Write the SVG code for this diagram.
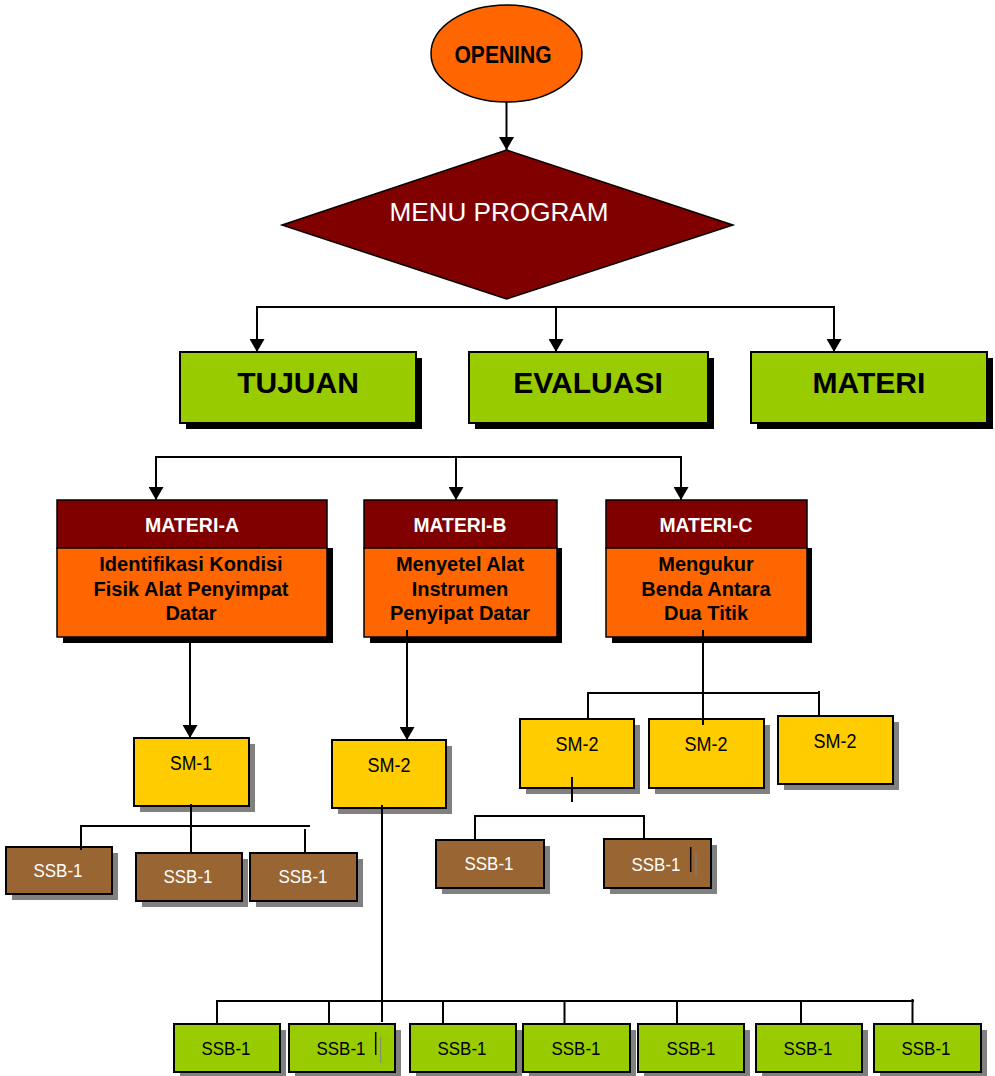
<svg xmlns="http://www.w3.org/2000/svg" width="995" height="1076" viewBox="0 0 995 1076">
<defs>
<marker id="arr" viewBox="0 0 13 15" refX="13" refY="7.5" markerWidth="13" markerHeight="15" markerUnits="userSpaceOnUse" orient="auto">
<path d="M0,0 L13,7.5 L0,15 z" fill="#000"/>
</marker>
</defs>
<style>
text{font-family:"Liberation Sans",Arial,sans-serif;text-anchor:middle}
.ln{stroke:#000;stroke-width:2;fill:none}
.ar{stroke:#000;stroke-width:2;fill:none;marker-end:url(#arr)}
.bs{fill:#000}
.gs{fill:#808080}
.box{stroke:#000;stroke-width:2}
.green{fill:#99CC00}
.orange{fill:#FF6600}
.red{fill:#800000}
.yellow{fill:#FFCC00}
.brown{fill:#996633}
.big{font-size:30px;font-weight:bold;fill:#000}
.hdr{font-size:20px;font-weight:bold;fill:#fff}
.body{font-size:20px;font-weight:bold;fill:#000}
.sm{font-size:20px;fill:#000}
.ssbw{font-size:18.5px;fill:#fff}
.ssbk{font-size:18.5px;fill:#000}
</style>
<rect width="995" height="1076" fill="#fff"/>

<g id="opening">
<ellipse cx="506.5" cy="53.5" rx="75.5" ry="48.5" class="orange" stroke="#000" stroke-width="1.5"/>
<text x="503" y="63" font-size="24" font-weight="bold" textLength="97" lengthAdjust="spacingAndGlyphs" fill="#000">OPENING</text>
</g>

<g id="menu-program">
<polygon points="506.5,150 733,225 506.5,299 282,225" class="red" stroke="#000" stroke-width="1.5"/>
<text x="499" y="221" font-size="26.5" textLength="219" lengthAdjust="spacingAndGlyphs" fill="#fff">MENU PROGRAM</text>
</g>

<g id="tujuan">
<rect x="186" y="358" width="236" height="71" class="bs"/>
<rect x="180" y="352" width="236" height="71" class="green box"/>
<text x="298" y="393" class="big">TUJUAN</text>
</g>
<g id="evaluasi">
<rect x="475" y="358" width="239" height="71" class="bs"/>
<rect x="469" y="352" width="239" height="71" class="green box"/>
<text x="588" y="393" class="big">EVALUASI</text>
</g>
<g id="materi">
<rect x="757" y="358" width="236" height="71" class="bs"/>
<rect x="751" y="352" width="236" height="71" class="green box"/>
<text x="869" y="393" class="big">MATERI</text>
</g>

<g id="materi-a">
<rect x="63" y="548" width="270" height="95" class="bs"/>
<rect x="57" y="500" width="270" height="48" class="red" stroke="#000" stroke-width="1.5"/>
<rect x="57" y="548" width="270" height="89" class="orange" stroke="#000" stroke-width="1.5"/>
<text x="192" y="532" class="hdr" textLength="94" lengthAdjust="spacingAndGlyphs">MATERI-A</text>
<text x="191" y="571" class="body">Identifikasi Kondisi</text>
<text x="191" y="596" class="body">Fisik Alat Penyimpat</text>
<text x="191" y="620" class="body">Datar</text>
</g>
<g id="materi-b">
<rect x="370" y="548" width="192" height="95" class="bs"/>
<rect x="364" y="500" width="193" height="48" class="red" stroke="#000" stroke-width="1.5"/>
<rect x="364" y="548" width="193" height="89" class="orange" stroke="#000" stroke-width="1.5"/>
<text x="460" y="532" class="hdr" textLength="93" lengthAdjust="spacingAndGlyphs">MATERI-B</text>
<text x="460" y="571" class="body">Menyetel Alat</text>
<text x="460" y="596" class="body">Instrumen</text>
<text x="460" y="620" class="body">Penyipat Datar</text>
</g>
<g id="materi-c">
<rect x="612" y="548" width="200" height="95" class="bs"/>
<rect x="606" y="500" width="201" height="48" class="red" stroke="#000" stroke-width="1.5"/>
<rect x="606" y="548" width="201" height="89" class="orange" stroke="#000" stroke-width="1.5"/>
<text x="706" y="532" class="hdr" textLength="93" lengthAdjust="spacingAndGlyphs">MATERI-C</text>
<text x="706" y="571" class="body">Mengukur</text>
<text x="706" y="596" class="body">Benda Antara</text>
<text x="706" y="620" class="body">Dua Titik</text>
</g>

<g id="sm-1">
<rect x="140" y="744" width="115" height="68" class="gs"/>
<rect x="134" y="738" width="115" height="68" class="yellow box"/>
<text x="191" y="770" class="sm" textLength="42" lengthAdjust="spacingAndGlyphs">SM-1</text>
</g>
<g id="sm-2-b">
<rect x="338" y="746" width="114" height="68" class="gs"/>
<rect x="332" y="740" width="114" height="68" class="yellow box"/>
<text x="389" y="772" class="sm" textLength="43" lengthAdjust="spacingAndGlyphs">SM-2</text>
</g>
<g id="sm-2-c1">
<rect x="526" y="725" width="114" height="69" class="gs"/>
<rect x="520" y="719" width="114" height="69" class="yellow box"/>
<text x="577" y="751" class="sm" textLength="43" lengthAdjust="spacingAndGlyphs">SM-2</text>
</g>
<g id="sm-2-c2">
<rect x="655" y="725" width="115" height="69" class="gs"/>
<rect x="649" y="719" width="115" height="69" class="yellow box"/>
<text x="706" y="751" class="sm" textLength="43" lengthAdjust="spacingAndGlyphs">SM-2</text>
</g>
<g id="sm-2-c3">
<rect x="784" y="722" width="115" height="68" class="gs"/>
<rect x="778" y="716" width="115" height="68" class="yellow box"/>
<text x="835" y="748" class="sm" textLength="43" lengthAdjust="spacingAndGlyphs">SM-2</text>
</g>

<g id="ssb-a1">
<rect x="12" y="853" width="106" height="47" class="gs"/>
<rect x="6" y="847" width="106" height="47" class="brown box"/>
<text x="58" y="877" class="ssbw" textLength="49" lengthAdjust="spacingAndGlyphs">SSB-1</text>
</g>
<g id="ssb-a2">
<rect x="142" y="859" width="106" height="48" class="gs"/>
<rect x="136" y="853" width="106" height="48" class="brown box"/>
<text x="188" y="883" class="ssbw" textLength="49" lengthAdjust="spacingAndGlyphs">SSB-1</text>
</g>
<g id="ssb-a3">
<rect x="256" y="859" width="107" height="48" class="gs"/>
<rect x="250" y="853" width="107" height="48" class="brown box"/>
<text x="303" y="883" class="ssbw" textLength="49" lengthAdjust="spacingAndGlyphs">SSB-1</text>
</g>
<g id="ssb-c1">
<rect x="442" y="846" width="108" height="48" class="gs"/>
<rect x="436" y="840" width="108" height="48" class="brown box"/>
<text x="489" y="870" class="ssbw" textLength="49" lengthAdjust="spacingAndGlyphs">SSB-1</text>
</g>
<g id="ssb-c2">
<rect x="610" y="845" width="107" height="49" class="gs"/>
<rect x="604" y="839" width="107" height="49" class="brown box"/>
<text x="656" y="871" class="ssbw" textLength="49" lengthAdjust="spacingAndGlyphs">SSB-1</text>
<line x1="690.7" y1="847" x2="690.7" y2="872" stroke="#000" stroke-width="1.5"/>
<line x1="696" y1="853" x2="696" y2="877" stroke="#808080" stroke-width="1"/>
</g>

<g id="ssb-b1">
<rect x="180" y="1030" width="106" height="48" class="gs"/>
<rect x="174" y="1024" width="106" height="48" class="green box"/>
<text x="226" y="1055" class="ssbk" textLength="49" lengthAdjust="spacingAndGlyphs">SSB-1</text>
</g>
<g id="ssb-b2">
<rect x="295" y="1030" width="106" height="48" class="gs"/>
<rect x="289" y="1024" width="106" height="48" class="green box"/>
<text x="341" y="1055" class="ssbk" textLength="49" lengthAdjust="spacingAndGlyphs">SSB-1</text>
<line x1="375.7" y1="1032" x2="375.7" y2="1055" stroke="#000" stroke-width="1.5"/>
<line x1="380.7" y1="1037" x2="380.7" y2="1063" stroke="#808080" stroke-width="1"/>
</g>
<g id="ssb-b3">
<rect x="416" y="1030" width="106" height="48" class="gs"/>
<rect x="410" y="1024" width="106" height="48" class="green box"/>
<text x="462" y="1055" class="ssbk" textLength="49" lengthAdjust="spacingAndGlyphs">SSB-1</text>
</g>
<g id="ssb-b4">
<rect x="529" y="1030" width="107" height="48" class="gs"/>
<rect x="523" y="1024" width="107" height="48" class="green box"/>
<text x="576" y="1055" class="ssbk" textLength="49" lengthAdjust="spacingAndGlyphs">SSB-1</text>
</g>
<g id="ssb-b5">
<rect x="644" y="1030" width="106" height="48" class="gs"/>
<rect x="638" y="1024" width="106" height="48" class="green box"/>
<text x="691" y="1055" class="ssbk" textLength="49" lengthAdjust="spacingAndGlyphs">SSB-1</text>
</g>
<g id="ssb-b6">
<rect x="762" y="1030" width="106" height="48" class="gs"/>
<rect x="756" y="1024" width="106" height="48" class="green box"/>
<text x="808" y="1055" class="ssbk" textLength="49" lengthAdjust="spacingAndGlyphs">SSB-1</text>
</g>
<g id="ssb-b7">
<rect x="880" y="1030" width="107" height="48" class="gs"/>
<rect x="874" y="1024" width="107" height="48" class="green box"/>
<text x="926" y="1055" class="ssbk" textLength="49" lengthAdjust="spacingAndGlyphs">SSB-1</text>
</g>

<g id="connectors">
<line x1="506.5" y1="102" x2="506.5" y2="150" class="ar"/>
<line x1="256" y1="307" x2="835" y2="307" class="ln"/>
<line x1="257" y1="306" x2="257" y2="352" class="ar"/>
<line x1="556" y1="306" x2="556" y2="352" class="ar"/>
<line x1="834" y1="306" x2="834" y2="352" class="ar"/>
<line x1="155" y1="457" x2="682" y2="457" class="ln"/>
<line x1="156" y1="456" x2="156" y2="500" class="ar"/>
<line x1="456" y1="456" x2="456" y2="500" class="ar"/>
<line x1="681" y1="456" x2="681" y2="500" class="ar"/>
<line x1="190" y1="643" x2="190" y2="738" class="ar"/>
<line x1="407" y1="630" x2="407" y2="740" class="ar"/>
<line x1="191" y1="804" x2="191" y2="853" class="ln"/>
<line x1="80" y1="826" x2="310" y2="826" class="ln"/>
<line x1="81" y1="825" x2="81" y2="850" class="ln"/>
<line x1="305" y1="829" x2="305" y2="853" class="ln"/>
<line x1="703" y1="630" x2="703" y2="725" class="ln"/>
<line x1="587" y1="693" x2="820" y2="693" class="ln"/>
<line x1="588" y1="692" x2="588" y2="719" class="ln"/>
<line x1="819" y1="691" x2="819" y2="716" class="ln"/>
<line x1="572" y1="777" x2="572" y2="802" class="ln"/>
<line x1="474" y1="816" x2="645" y2="816" class="ln"/>
<line x1="475" y1="815" x2="475" y2="840" class="ln"/>
<line x1="644" y1="815" x2="644" y2="839" class="ln"/>
<line x1="382" y1="805" x2="382" y2="1022" class="ln"/>
<line x1="216" y1="1001" x2="914" y2="1001" class="ln"/>
<line x1="217" y1="1000" x2="217" y2="1024" class="ln"/>
<line x1="329" y1="1000" x2="329" y2="1024" class="ln"/>
<line x1="443" y1="1000" x2="443" y2="1024" class="ln"/>
<line x1="564.5" y1="1000" x2="564.5" y2="1024" class="ln"/>
<line x1="677" y1="1000" x2="677" y2="1024" class="ln"/>
<line x1="801" y1="1000" x2="801" y2="1024" class="ln"/>
<line x1="912.5" y1="999" x2="912.5" y2="1024" class="ln"/>
</g>
</svg>
